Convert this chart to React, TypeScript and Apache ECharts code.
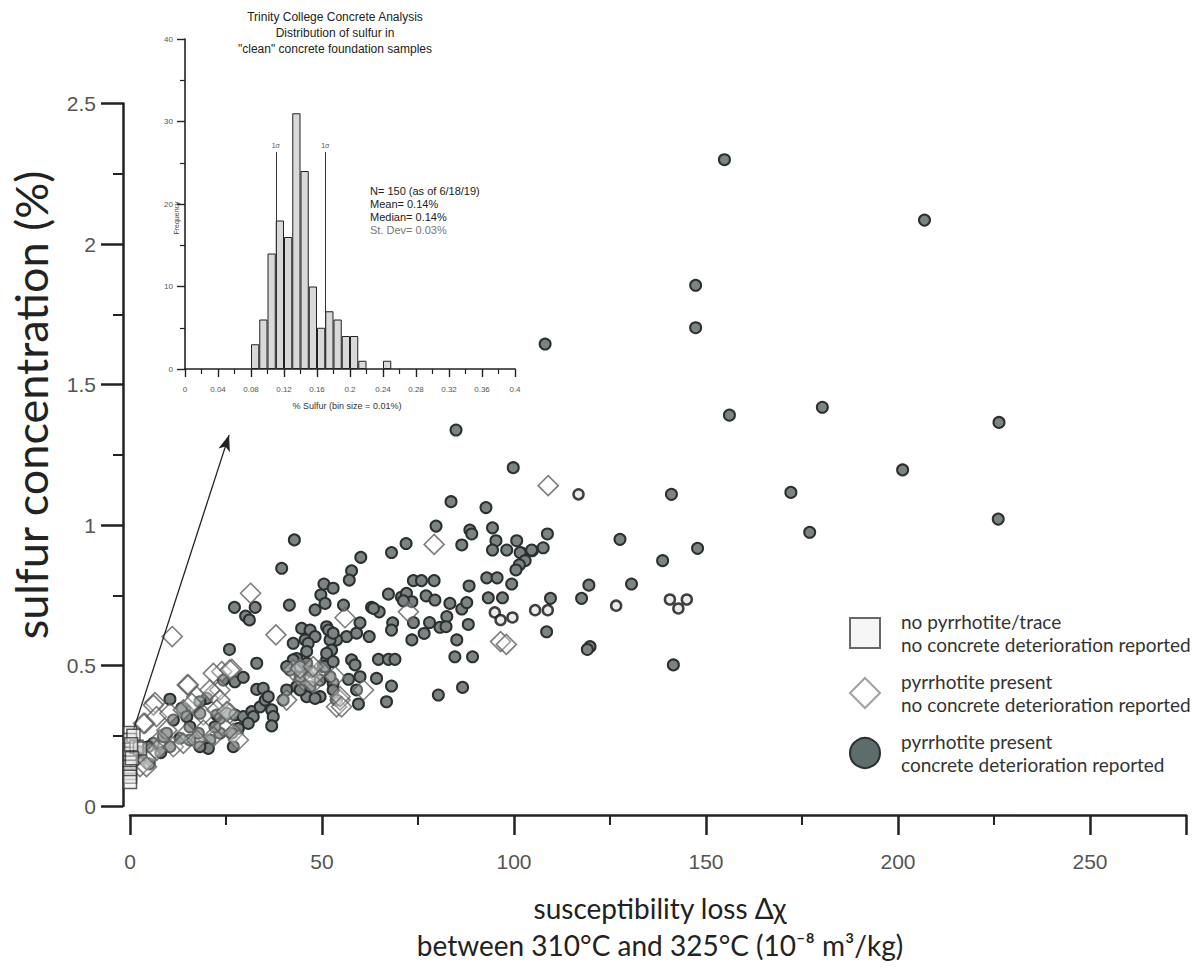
import React, { useEffect, useRef } from "react";
import * as echarts from "echarts";

// ---------- main scatter data: [susceptibility loss, sulfur %] ----------
const noPyrrhotite: number[][] = [
  [0, 0.26], [0, 0.235], [0, 0.2], [0, 0.185], [0, 0.155], [0, 0.14], [0, 0.117],
  [0, 0.104], [0, 0.085], [0.9, 0.25], [1.7, 0.211], [2.6, 0.205], [0.5, 0.17], [0.3, 0.22],
];

const pyrrhotiteNoDeterioration: number[][] = [
  [108.9, 1.14], [96.5, 0.585], [98, 0.575], [79.2, 0.931], [56, 0.67], [72.5, 0.691],
  [31.4, 0.757], [11, 0.603], [38, 0.609], [23.9, 0.478], [26.5, 0.486], [14.9, 0.431],
  [6.5, 0.368], [21.7, 0.401], [23.4, 0.413], [15.2, 0.431], [21.7, 0.472], [26, 0.484],
  [17.4, 0.389], [20.8, 0.413], [23.4, 0.377], [6.1, 0.359], [3.9, 0.294], [6.9, 0.318],
  [10.4, 0.33], [13.9, 0.342], [16.1, 0.365], [19.1, 0.324], [22.6, 0.342], [26, 0.33],
  [24.3, 0.282], [19.1, 0.27], [14.8, 0.259], [9.6, 0.27], [7.8, 0.235], [11.3, 0.211],
  [13.9, 0.223], [17.4, 0.235], [21.7, 0.247], [26.9, 0.259], [5.2, 0.188], [2.6, 0.14],
  [4.3, 0.164], [28.2, 0.235], [42.5, 0.484], [45.1, 0.448], [47.7, 0.437], [49.5, 0.484],
  [53.8, 0.353], [40.8, 0.377], [54.7, 0.377], [60.8, 0.413], [44.3, 0.49], [47.7, 0.46],
  [3.5, 0.294], [7, 0.199], [4.3, 0.14], [25.2, 0.336], [53.4, 0.46], [54.7, 0.389],
  [55.1, 0.353], [47.7, 0.496],
];

const pyrrhotiteDeterioration: number[][] = [
  [154.8, 2.3], [206.9, 2.085], [147.3, 1.853], [147.3, 1.702], [108.1, 1.644], [156.1, 1.391],
  [180.3, 1.419], [226.3, 1.365], [84.9, 1.338], [99.8, 1.204], [201.2, 1.196], [141, 1.109],
  [172.1, 1.116], [226.1, 1.021], [177, 0.974], [127.6, 0.949], [147.8, 0.917], [138.7, 0.873],
  [119.5, 0.786], [130.6, 0.79], [117.6, 0.739], [119.8, 0.567], [119.1, 0.557], [141.5, 0.502],
  [108.7, 0.968], [107.6, 0.919], [104.8, 0.909], [102, 0.9], [92.7, 1.062], [94.4, 0.99],
  [95.3, 0.944], [100.7, 0.944], [94.4, 0.911], [98.1, 0.911], [101.6, 0.902], [104.6, 0.911],
  [102.9, 0.873], [101.4, 0.858], [100.5, 0.84], [92.9, 0.812], [95.6, 0.812], [99.4, 0.79],
  [93.3, 0.741], [97, 0.741], [109.5, 0.739], [108.5, 0.62],
  [83.6, 1.083], [79.7, 0.996], [88.5, 0.982], [89, 0.968], [71.9, 0.934], [86.4, 0.929],
  [68.1, 0.902], [60.1, 0.885], [57.7, 0.837], [57.1, 0.804], [50.5, 0.79], [52.9, 0.775],
  [49.7, 0.751], [48.2, 0.698], [55.6, 0.715], [50.8, 0.721], [62.9, 0.707], [64.9, 0.691],
  [67.3, 0.754], [73.8, 0.802], [75.9, 0.802], [79.2, 0.802], [70.7, 0.743], [72, 0.757],
  [73.4, 0.727], [71.2, 0.73], [77.1, 0.748], [79.4, 0.733], [83.3, 0.721], [86.4, 0.701],
  [87.7, 0.724], [88.3, 0.783], [68.4, 0.652], [68.1, 0.626], [73.8, 0.653], [76.6, 0.614],
  [78, 0.653], [80.7, 0.636], [82.5, 0.674], [82.3, 0.638], [88.1, 0.646], [73.4, 0.591],
  [85.1, 0.591], [84.6, 0.531], [89.2, 0.531], [64.7, 0.522], [67.3, 0.522], [69, 0.522],
  [64.2, 0.454], [68.1, 0.427], [66.8, 0.371], [80.3, 0.395], [86.6, 0.422], [59.5, 0.363],
  [59.9, 0.46], [56.9, 0.451], [57.7, 0.52], [58.6, 0.502], [56.4, 0.603], [59, 0.615],
  [62.3, 0.603], [53.8, 0.591], [52.1, 0.591], [51.2, 0.638], [51.7, 0.626], [59.9, 0.652],
  [52.5, 0.555], [51.2, 0.52], [50.3, 0.496], [63.4, 0.703], [52.9, 0.437], [59, 0.413],
  [44.7, 0.632], [46.9, 0.626], [52.9, 0.615], [45.6, 0.591], [48.2, 0.603], [42.5, 0.579],
  [46.4, 0.579], [43.4, 0.525], [46, 0.508], [41.7, 0.484], [44.3, 0.46], [47.3, 0.478],
  [51.2, 0.543], [50.8, 0.496], [52.9, 0.514], [49.5, 0.448], [46.9, 0.425], [43.4, 0.425],
  [40.8, 0.413], [39.9, 0.377], [46, 0.389], [49.5, 0.389], [52.9, 0.413], [52.1, 0.46],
  [53.8, 0.377], [48.2, 0.383], [44.3, 0.413], [46, 0.55], [42.5, 0.52], [44.3, 0.496],
  [40.8, 0.496], [42.8, 0.947], [39.5, 0.846], [27.2, 0.707], [30.1, 0.676], [31.1, 0.662],
  [32.6, 0.707], [41.5, 0.715], [25.9, 0.557], [33, 0.508],
  [10.4, 0.38], [24.3, 0.448], [27.3, 0.442], [29.5, 0.458], [20, 0.383], [18.2, 0.371],
  [14.3, 0.342], [13.5, 0.348], [22.6, 0.324], [23.4, 0.312], [25.2, 0.33], [27.3, 0.324],
  [29.5, 0.318], [31.7, 0.336], [33.9, 0.353], [35.2, 0.377], [33, 0.415], [34.7, 0.419],
  [36, 0.389], [36.9, 0.342], [37.3, 0.318], [36.9, 0.285], [32.1, 0.318], [30.8, 0.294],
  [28.2, 0.276], [26.5, 0.259], [23.4, 0.259], [20.8, 0.235], [20.4, 0.205], [26.9, 0.211],
  [18.2, 0.211], [15.6, 0.235], [13, 0.241], [10.4, 0.211], [8.7, 0.247], [6.1, 0.223],
  [4.8, 0.211], [2.6, 0.193], [14.8, 0.318], [18.2, 0.33], [22.1, 0.282], [15.6, 0.282],
  [11.3, 0.306], [17.8, 0.259], [9.5, 0.259], [3, 0.17], [5, 0.15], [8, 0.19],
];

// small ringed circles (same category, different print)
const pyrrhotiteDeteriorationRinged: number[][] = [
  [116.8, 1.109], [126.6, 0.713], [140.6, 0.735], [145, 0.735], [142.8, 0.703],
  [95, 0.689], [96.5, 0.662], [99.6, 0.671], [105.5, 0.697], [108.8, 0.697],
];

const arrowStart = [0.9, 0.27];
const arrowEnd = [25.8, 1.32];

// ---------- inset histogram ----------
const histBinStarts = [0.08, 0.09, 0.1, 0.11, 0.12, 0.13, 0.14, 0.15, 0.16, 0.17, 0.18, 0.19, 0.2, 0.21, 0.24];
const histCounts = [3, 6, 14, 18, 16, 31, 24, 10, 5, 7, 6, 4, 4, 1, 1];
const binSize = 0.01;
const sigmaLines = [0.11, 0.17];
const sigmaTop = 26.3;

const insetTitle = ["Trinity College Concrete Analysis", "Distribution of sulfur in", "\"clean\" concrete foundation samples"];
const insetStats = ["N= 150 (as of 6/18/19)", "Mean= 0.14%", "Median= 0.14%", "St. Dev= 0.03%"];

const LEG_SQUARE = "no pyrrhotite/trace\nno concrete deterioration reported";
const LEG_DIAMOND = "pyrrhotite present\nno concrete deterioration reported";
const LEG_CIRCLE = "pyrrhotite present\nconcrete deterioration reported";

const xTitle1 = "susceptibility loss Δχ";
const xTitle2 = "between 310°C and 325°C (10⁻⁸ m³/kg)";
const yTitle = "sulfur concentration (%)";

export default function App() {
  const ref = useRef<HTMLDivElement>(null);
  useEffect(() => {
    if (!ref.current) return;
    const chart = echarts.init(ref.current, undefined, { renderer: "svg" });
    const axisColor = "#222";
    const hist = histBinStarts.map((s, i) => [s + binSize / 2, histCounts[i]]);

    const option: any = {
      animation: false,
      backgroundColor: "#ffffff",
      grid: [
        { left: 130, top: 103.5, width: 1056, height: 702.5 },
        { left: 185, top: 39, width: 330, height: 330 },
      ],
      xAxis: [
        {
          gridIndex: 0, type: "value", min: 0, max: 275, interval: 50, offset: 9,
          axisLine: { show: true, onZero: false, lineStyle: { color: axisColor, width: 2.5 } },
          axisTick: { show: true, length: 20, lineStyle: { color: axisColor, width: 2.5 } },
          minorTick: { show: true, splitNumber: 2, length: 10, lineStyle: { color: axisColor, width: 2 } },
          axisLabel: { margin: 36, fontSize: 21, color: "#555", fontFamily: "Liberation Sans", showMaxLabel: false },
          splitLine: { show: false },
        },
        {
          gridIndex: 1, type: "value", min: 0, max: 0.4, interval: 0.04,
          axisLine: { show: true, onZero: false, lineStyle: { color: axisColor, width: 1.6 } },
          axisTick: { show: true, length: 8, lineStyle: { color: axisColor, width: 1.4 } },
          minorTick: { show: true, splitNumber: 2, length: 5, lineStyle: { color: axisColor, width: 1.2 } },
          axisLabel: { margin: 16, fontSize: 8, color: "#555", fontFamily: "Liberation Sans" },
          splitLine: { show: false },
        },
      ],
      yAxis: [
        {
          gridIndex: 0, type: "value", min: 0, max: 2.5, interval: 0.5, offset: 7,
          axisLine: { show: true, onZero: false, lineStyle: { color: axisColor, width: 2.5 } },
          axisTick: { show: true, length: 22, lineStyle: { color: axisColor, width: 2.5 } },
          minorTick: { show: true, splitNumber: 2, length: 10, lineStyle: { color: axisColor, width: 2 } },
          axisLabel: { margin: 27, fontSize: 21, color: "#555", fontFamily: "Liberation Sans" },
          splitLine: { show: false },
        },
        {
          gridIndex: 1, type: "value", min: 0, max: 40, interval: 10,
          axisLine: { show: true, onZero: false, lineStyle: { color: axisColor, width: 1.6 } },
          axisTick: { show: true, length: 8, lineStyle: { color: axisColor, width: 1.4 } },
          minorTick: { show: true, splitNumber: 2, length: 5, lineStyle: { color: axisColor, width: 1.2 } },
          axisLabel: { margin: 12, fontSize: 8, color: "#555", fontFamily: "Liberation Sans" },
          splitLine: { show: false },
        },
      ],
      legend: {
        orient: "vertical", left: 849, top: 610, padding: 0, itemWidth: 30, itemHeight: 30, itemGap: 14,
        selectedMode: false,
        textStyle: { fontFamily: "Lato", fontSize: 19, color: "#333", lineHeight: 23, padding: [0, 0, 0, 16] },
        data: [
          { name: LEG_SQUARE, icon: "rect", itemStyle: { color: "#f4f4f4", borderColor: "#444", borderWidth: 2 } },
          { name: LEG_DIAMOND, icon: "diamond", itemStyle: { color: "#ffffff", borderColor: "#8a8a8a", borderWidth: 2 } },
          { name: LEG_CIRCLE, icon: "circle", itemStyle: { color: "#5f6c6c", borderColor: "#2a2f2f", borderWidth: 2 } },
        ],
      },
      graphic: [
        ...insetTitle.map((t, i) => ({
          type: "text", x: 335, y: 17 + i * 16,
          style: { text: t, font: "12px 'Liberation Sans'", fill: "#222", textAlign: "center", textVerticalAlign: "middle" },
        })),
        ...insetStats.map((t, i) => ({
          type: "text", x: 370, y: 191 + i * 13,
          style: { text: t, font: "11px 'Liberation Sans'", fill: i === 3 ? "#777" : "#222", textAlign: "left", textVerticalAlign: "middle" },
        })),
        {
          type: "text", x: 347, y: 406,
          style: { text: "% Sulfur (bin size = 0.01%)", font: "9px 'Liberation Sans'", fill: "#333", textAlign: "center", textVerticalAlign: "middle" },
        },
        {
          type: "text", x: 176, y: 218, rotation: Math.PI / 2,
          style: { text: "Frequency", font: "7px 'Liberation Sans'", fill: "#444", textAlign: "center", textVerticalAlign: "middle" },
        },
        {
          type: "text", x: 31, y: 405, rotation: Math.PI / 2,
          style: { text: yTitle, font: "45px Lato", fill: "#222", textAlign: "center", textVerticalAlign: "middle" },
        },
        {
          type: "text", x: 660, y: 908,
          style: { text: xTitle1, font: "28px Lato", fill: "#222", textAlign: "center", textVerticalAlign: "middle" },
        },
        {
          type: "text", x: 660, y: 945,
          style: { text: xTitle2, font: "28px Lato", fill: "#222", textAlign: "center", textVerticalAlign: "middle" },
        },
      ],
      series: [
        {
          name: LEG_CIRCLE, type: "scatter", xAxisIndex: 0, yAxisIndex: 0,
          data: pyrrhotiteDeterioration, symbol: "circle", symbolSize: 11, z: 3,
          itemStyle: { color: "#7b8383", borderColor: "#2b2f2f", borderWidth: 2, opacity: 1 },
          markLine: {
            silent: true, symbol: ["none", "arrow"], symbolSize: [9, 16],
            lineStyle: { color: "#222", width: 1.3, type: "solid" },
            label: { show: false },
            data: [[{ coord: arrowStart }, { coord: arrowEnd }]],
          },
        },
        {
          name: LEG_CIRCLE, type: "scatter", xAxisIndex: 0, yAxisIndex: 0,
          data: pyrrhotiteDeteriorationRinged, symbol: "circle", symbolSize: 10, z: 3,
          itemStyle: { color: "#e6e6e6", borderColor: "#111", borderWidth: 2.5 },
        },
        {
          name: LEG_DIAMOND, type: "scatter", xAxisIndex: 0, yAxisIndex: 0,
          data: pyrrhotiteNoDeterioration, symbol: "diamond", symbolSize: 20, z: 4,
          itemStyle: { color: "rgba(255,255,255,0.35)", borderColor: "#5e5e5e", borderWidth: 1.6 },
        },
        {
          name: LEG_SQUARE, type: "scatter", xAxisIndex: 0, yAxisIndex: 0,
          data: noPyrrhotite, symbol: "rect", symbolSize: 13, z: 5,
          itemStyle: { color: "rgba(235,235,235,0.6)", borderColor: "#333", borderWidth: 1.5 },
        },
        {
          type: "bar", xAxisIndex: 1, yAxisIndex: 1, data: hist, barWidth: 8.25,
          itemStyle: { color: "#d9d9d9", borderColor: "#222", borderWidth: 1 },
          markLine: {
            silent: true, symbol: ["none", "none"],
            lineStyle: { color: "#333", width: 1, type: "solid" },
            label: { show: true, position: "end", formatter: "1σ", fontSize: 7, color: "#555", distance: 3 },
            data: sigmaLines.map((v) => [{ coord: [v, 0] }, { coord: [v, sigmaTop] }]),
          },
        },
      ],
    };
    chart.setOption(option);
    return () => chart.dispose();
  }, []);

  return (
    <div
      ref={ref}
      style={{ position: "absolute", left: 0, top: 0, width: 1197, height: 969, background: "#fff" }}
    />
  );
}
